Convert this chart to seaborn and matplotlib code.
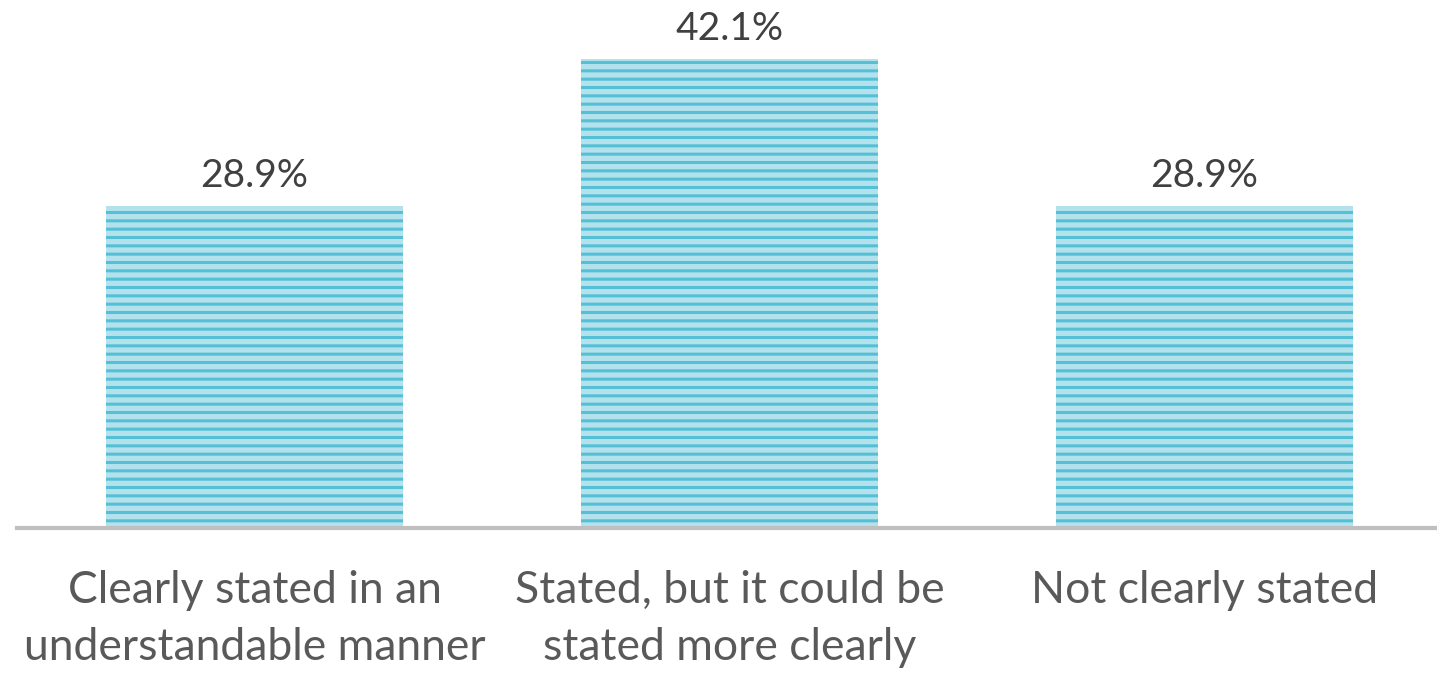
import matplotlib
matplotlib.use("Agg")
import matplotlib.pyplot as plt
import seaborn as sns
import pandas as pd

categories = ["Clearly stated in an\nunderstandable manner",
              "Stated, but it could be\nstated more clearly",
              "Not clearly stated"]
values = [28.9, 42.1, 28.9]
value_labels = ["28.9%", "42.1%", "28.9%"]

sns.set_theme(style="white")
plt.rcParams['font.family'] = ['Lato', 'DejaVu Sans']
plt.rcParams['hatch.linewidth'] = 2.2

df = pd.DataFrame({"category": categories, "value": values})

fig = plt.figure(figsize=(14.37, 6.75), dpi=100)
ax = fig.add_axes([17/1437, 1 - 528/675, 1425/1437, (528 - 27)/675])

sns.barplot(data=df, x="category", y="value", ax=ax, width=0.627,
            color="#b3e2ed", saturation=1)
for p in ax.patches:
    p.set_hatch("--")
    p.set_edgecolor("#55bfd5")
    p.set_linewidth(0)

ax.set_ylim(0, 45)
ax.set_xlim(-0.5, 2.5)
for i, (v, lab) in enumerate(zip(values, value_labels)):
    ax.text(i, v + 1.1, lab, ha="center", va="bottom", fontsize=28, color="#404040")

for s in ["left", "right", "top"]:
    ax.spines[s].set_visible(False)
ax.spines["bottom"].set_color("#bfbfbf")
ax.spines["bottom"].set_linewidth(3)
ax.set_yticks([])
ax.set_xlabel("")
ax.set_ylabel("")
ax.tick_params(axis="x", length=0, pad=30, labelsize=32, labelcolor="#595959")
for t in ax.get_xticklabels():
    t.set_linespacing(1.5)

fig.savefig("out.png", dpi=100)
